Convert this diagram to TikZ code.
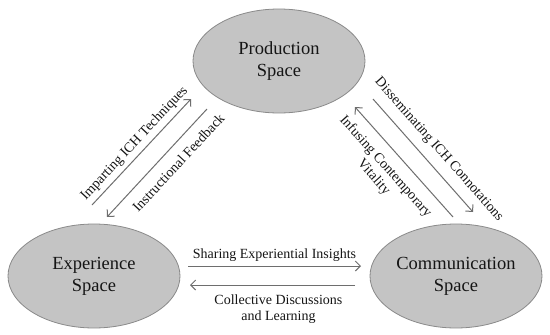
\documentclass[tikz,border=0pt]{standalone}
\usepackage{fontspec}
\setmainfont{Liberation Serif}
\usetikzlibrary{shapes.geometric,arrows.meta}
\definecolor{ellfill}{HTML}{C4C4C4}
\definecolor{ellborder}{HTML}{8A8A8A}
\definecolor{arrowc}{HTML}{6E6E6E}
\definecolor{txt}{HTML}{151515}
\begin{document}
\begin{tikzpicture}[x=1pt,y=-1pt,
  spacebox/.style={ellipse, draw=ellborder, fill=ellfill, line width=0.8pt,
    minimum width=172pt, minimum height=104pt, inner sep=0pt, align=center,
    font=\fontsize{18.5}{22}\selectfont, text=txt},
  flow/.style={draw=arrowc, line width=1pt, -{Straight Barb[length=5pt,width=10pt]}},
  lab/.style={font=\fontsize{14}{16}\selectfont, align=center, text=txt, inner sep=0pt}]
\useasboundingbox (0,0) rectangle (550,335);
\fill[white] (0,0) rectangle (550,335);
\node[spacebox] (prod) at (279,61) {Production\\Space};
\node[spacebox] (exp) at (94,276) {Experience\\Space};
\node[spacebox] (com) at (456,276) {Communication\\Space};
\coordinate (a1) at (92,205);
\coordinate (a2) at (191,99);
\coordinate (b1) at (207,109);
\coordinate (b2) at (107,217);
\coordinate (c1) at (373,99);
\coordinate (c2) at (473,212);
\coordinate (d1) at (453,217);
\coordinate (d2) at (355,107);
\coordinate (e1) at (188,266);
\coordinate (e2) at (361,266);
\coordinate (f1) at (355,285);
\coordinate (f2) at (190,285);
\draw[flow] (a1) -- node[lab, sloped, above=4pt, pos=0.51] (la) {Imparting ICH Techniques} (a2);
\draw[flow] (b1) -- node[lab, sloped, below=10pt, pos=0.4] (lb) {Instructional Feedback} (b2);
\draw[flow] (c1) -- node[lab, sloped, above=9pt, pos=0.54] (lc) {Disseminating ICH Connotations} (c2);
\draw[flow] (d1) -- node[lab, sloped, below=10pt, pos=0.56] (ld) {Infusing Contemporary\\Vitality} (d2);
\draw[flow] (e1) -- node[lab, above=4pt, pos=0.5] (le) {Sharing Experiential Insights} (e2);
\draw[flow] (f1) -- node[lab, below=9pt, pos=0.464] (lf) {Collective Discussions\\and Learning} (f2);
\end{tikzpicture}
\end{document}
